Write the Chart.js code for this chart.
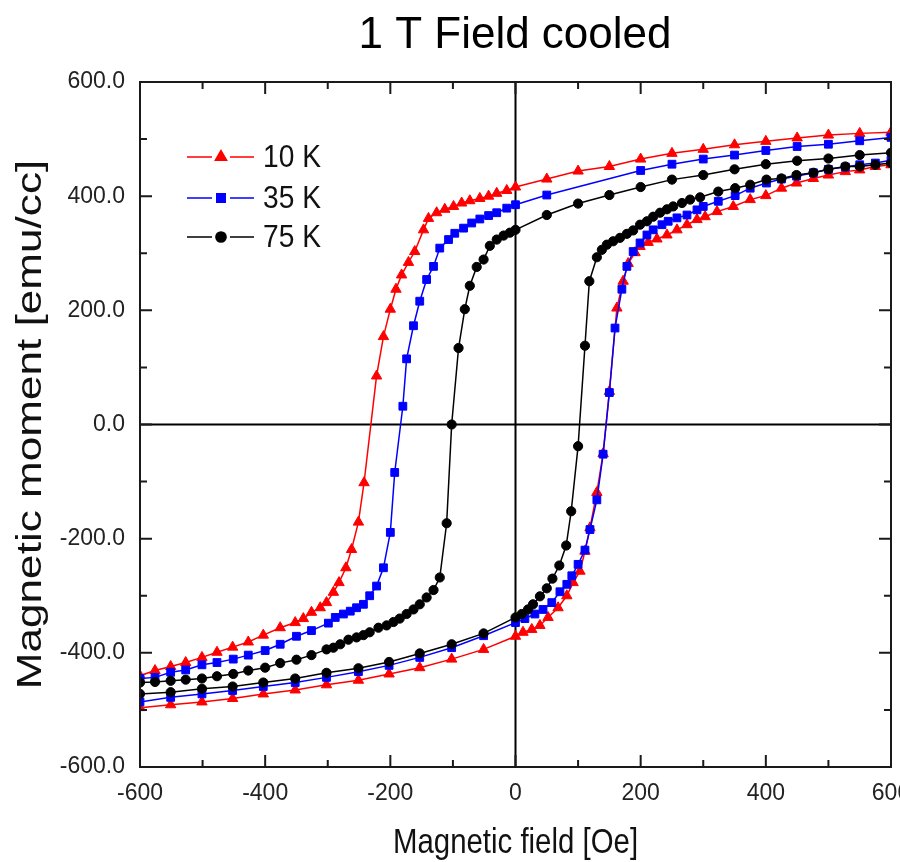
<!DOCTYPE html>
<html>
<head>
<meta charset="utf-8">
<script src="https://cdn.jsdelivr.net/npm/chart.js@4.4.1/dist/chart.umd.min.js"></script>
<style>
  html, body { margin: 0; padding: 0; background: #fff; overflow: hidden; }
  #wrap { position: relative; width: 930px; height: 862px; }
</style>
</head>
<body>
<div id="wrap"><canvas id="loopChart"></canvas></div>
<script>
// 10 K - field sweep down (600 -> -600) then back up
const field10Down = [600, 550, 500, 450, 400, 350, 300, 250, 200, 150, 100, 50, 0, -14, -30, -43, -57, -73, -86, -99, -113, -126, -139, -147, -161, -171, -182, -191, -200, -211, -222, -242, -251, -262, -271, -282, -291, -302, -312, -326, -339, -352, -376, -403, -427, -452, -477, -501, -527, -551, -576, -600];
const moment10Down = [512, 510, 507, 502, 496, 490, 482, 475, 465, 452, 444, 430, 416, 410, 405, 400, 396, 392, 388, 382, 377, 371, 361, 341, 303, 284, 262, 237, 202, 154, 85, -102, -171, -219, -251, -277, -294, -312, -321, -329, -340, -347, -356, -369, -381, -390, -399, -408, -417, -424, -431, -440];
const field10Up = [-600, -551, -501, -452, -403, -352, -302, -251, -202, -153, -102, -51, 0, 12, 26, 39, 52, 68, 82, 92, 103, 111, 119, 130, 140, 150, 162, 172, 180, 191, 199, 212, 226, 242, 258, 274, 290, 303, 322, 348, 375, 400, 425, 449, 476, 500, 527, 550, 575, 600];
const moment10Up = [-496, -491, -486, -480, -472, -465, -456, -448, -437, -426, -411, -394, -371, -364, -359, -352, -338, -321, -300, -277, -257, -222, -181, -119, -51, 58, 204, 251, 282, 301, 312, 319, 325, 332, 341, 350, 359, 364, 373, 382, 394, 401, 414, 423, 431, 437, 443, 446, 452, 455];

// 35 K
const field35Down = [600, 550, 500, 450, 400, 350, 300, 250, 200, 50, 0, -14, -30, -43, -57, -70, -83, -97, -107, -121, -131, -142, -153, -163, -174, -180, -193, -200, -211, -222, -233, -243, -254, -264, -275, -288, -299, -326, -350, -376, -400, -427, -451, -477, -501, -527, -551, -576, -600];
const moment35Down = [503, 497, 491, 487, 480, 472, 465, 456, 445, 402, 385, 379, 371, 366, 360, 353, 344, 335, 324, 309, 277, 254, 216, 173, 115, 32, -84, -189, -251, -283, -300, -315, -321, -327, -332, -338, -348, -361, -371, -385, -396, -404, -411, -417, -421, -430, -434, -443, -445];
const field35Up = [-600, -551, -501, -452, -403, -352, -302, -251, -202, -153, -102, -51, 0, 15, 31, 44, 58, 71, 82, 90, 100, 111, 119, 130, 140, 150, 159, 170, 178, 188, 199, 210, 220, 234, 244, 258, 274, 290, 300, 324, 351, 375, 401, 425, 449, 476, 500, 527, 550, 575, 600];
const moment35Up = [-486, -478, -472, -466, -459, -452, -443, -433, -422, -408, -391, -370, -347, -340, -332, -324, -312, -293, -280, -265, -245, -220, -184, -132, -52, 56, 169, 237, 277, 303, 318, 332, 341, 350, 356, 362, 367, 376, 382, 391, 401, 414, 423, 430, 435, 441, 447, 451, 455, 458, 463];

// 75 K
const field75Down = [600, 550, 500, 450, 400, 350, 300, 250, 200, 150, 100, 50, 0, -9, -19, -30, -41, -51, -62, -73, -81, -91, -102, -110, -121, -131, -142, -153, -163, -174, -185, -195, -206, -219, -233, -243, -254, -267, -280, -291, -302, -326, -350, -376, -400, -427, -451, -477, -501, -527, -551, -576, -600];
const moment75Down = [476, 472, 466, 462, 456, 447, 437, 429, 416, 402, 387, 367, 341, 336, 331, 324, 313, 289, 276, 243, 202, 134, 0, -173, -268, -290, -303, -315, -324, -332, -340, -346, -352, -356, -364, -369, -373, -377, -385, -391, -394, -404, -412, -418, -426, -431, -437, -441, -445, -447, -449, -451, -452];
const field75Up = [-600, -551, -501, -452, -403, -352, -302, -251, -202, -153, -102, -51, 0, 10, 20, 28, 39, 50, 59, 70, 81, 89, 100, 111, 118, 130, 138, 146, 156, 167, 178, 188, 199, 210, 220, 231, 242, 252, 266, 279, 295, 324, 351, 375, 401, 425, 449, 476, 500, 527, 550, 575, 600];
const moment75Up = [-472, -469, -463, -459, -452, -445, -435, -427, -416, -401, -385, -366, -338, -332, -324, -315, -301, -287, -270, -247, -212, -152, -38, 138, 251, 293, 306, 315, 321, 327, 334, 340, 350, 356, 364, 371, 377, 382, 388, 394, 398, 408, 414, 420, 429, 431, 437, 441, 447, 452, 452, 455, 458];

const seriesLabels = ['10 K', '35 K', '75 K'];
const seriesColors = ['#ff0000', '#0000ff', '#000000'];
const seriesMarkers = ['triangle', 'rect', 'circle'];
const markerSizes = [6, 5.5, 4.6];

const xTicks = [-600, -400, -200, 0, 200, 400, 600];
const yTicks = [-600, -400, -200, 0, 200, 400, 600];

const sansFont = "'Liberation Sans', Arial, sans-serif";

function toPoints(xs, ys) {
    return xs.map((x, i) => ({ x: x, y: ys[i] }));
}

const loops = [
    toPoints(field10Down, moment10Down).concat(toPoints(field10Up, moment10Up)),
    toPoints(field35Down, moment35Down).concat(toPoints(field35Up, moment35Up)),
    toPoints(field75Down, moment75Down).concat(toPoints(field75Up, moment75Up))
];

// text squeezed/stretched horizontally like the scanned figure
function stretchedText(ctx, text, x, y, sx, angle) {
    ctx.save();
    ctx.translate(x, y);
    ctx.rotate(angle || 0);
    ctx.scale(sx, 1);
    ctx.fillText(text, 0, 0);
    ctx.restore();
}

// frame, inward ticks, zero lines, titles and legend
const frameTicks = {
    id: 'frameTicks',
    beforeDatasetsDraw(chart) {
        const { ctx, chartArea, scales } = chart;
        const x0 = scales.x.getPixelForValue(0);
        const y0 = scales.y.getPixelForValue(0);
        ctx.save();
        ctx.strokeStyle = '#000';
        ctx.lineWidth = 2;
        ctx.beginPath();
        ctx.moveTo(x0, chartArea.top);
        ctx.lineTo(x0, chartArea.bottom);
        ctx.moveTo(chartArea.left, y0);
        ctx.lineTo(chartArea.right, y0);
        ctx.stroke();
        ctx.restore();
    },
    afterDatasetsDraw(chart) {
        const { ctx, chartArea, scales } = chart;
        const { left, right, top, bottom } = chartArea;
        ctx.save();
        ctx.strokeStyle = '#1a1a1a';
        ctx.lineWidth = 2;
        ctx.strokeRect(left, top, right - left, bottom - top);
        ctx.beginPath();
        for (let v = -500; v <= 500; v += 100) {
            const len = v % 200 === 0 ? 12 : 7;
            const px = scales.x.getPixelForValue(v);
            ctx.moveTo(px, bottom);
            ctx.lineTo(px, bottom - len);
            ctx.moveTo(px, top);
            ctx.lineTo(px, top + len);
            const py = scales.y.getPixelForValue(v);
            ctx.moveTo(left, py);
            ctx.lineTo(left + len, py);
            ctx.moveTo(right, py);
            ctx.lineTo(right - len, py);
        }
        ctx.stroke();
        ctx.restore();
    },
    afterDraw(chart) {
        const { ctx, chartArea } = chart;
        const midX = (chartArea.left + chartArea.right) / 2;
        const midY = (chartArea.top + chartArea.bottom) / 2;
        ctx.save();
        ctx.fillStyle = '#000';
        ctx.font = '44px ' + sansFont;
        ctx.textAlign = 'center';
        ctx.textBaseline = 'alphabetic';
        ctx.fillText('1 T Field cooled', 515, 48);

        ctx.fillStyle = '#111';
        ctx.font = '35px ' + sansFont;
        stretchedText(ctx, 'Magnetic field [Oe]', midX, 853, 0.84, 0);
        ctx.textBaseline = 'middle';
        stretchedText(ctx, 'Magnetic moment [emu/cc]', 31, midY, 1.26, -Math.PI / 2);

        // legend inside the plot
        const rows = [157, 198, 237];
        ctx.textAlign = 'left';
        ctx.font = '32px ' + sansFont;
        rows.forEach((y, i) => {
            ctx.strokeStyle = seriesColors[i];
            ctx.fillStyle = seriesColors[i];
            ctx.lineWidth = 1.5;
            ctx.beginPath();
            ctx.moveTo(187, y);
            ctx.lineTo(212, y);
            ctx.moveTo(230, y);
            ctx.lineTo(254, y);
            ctx.stroke();
            Chart.helpers.drawPoint(ctx, {
                pointStyle: seriesMarkers[i],
                radius: markerSizes[i] + 0.5,
                rotation: 0,
                borderWidth: 1
            }, 221, y);
            ctx.fillStyle = '#111';
            stretchedText(ctx, seriesLabels[i], 263, y + 1, 0.88, 0);
        });
        ctx.restore();
    }
};

new Chart(document.getElementById('loopChart'), {
    type: 'scatter',
    data: {
        datasets: loops.map((pts, i) => ({
            label: seriesLabels[i],
            data: pts,
            showLine: true,
            borderColor: seriesColors[i],
            backgroundColor: seriesColors[i],
            borderWidth: 1.5,
            pointStyle: seriesMarkers[i],
            pointRadius: markerSizes[i],
            pointBorderWidth: 1,
            tension: 0,
            order: 3 - i
        }))
    },
    options: {
        responsive: true,
        maintainAspectRatio: false,
        animation: false,
        layout: { padding: { top: 82, right: 39, bottom: 0, left: 0 } },
        plugins: {
            legend: { display: false },
            tooltip: { enabled: false }
        },
        scales: {
            x: {
                type: 'linear',
                min: -600,
                max: 600,
                afterFit: function(scale) { scale.height = 95; },
                afterBuildTicks: function(scale) {
                    scale.ticks = xTicks.map(v => ({ value: v }));
                },
                grid: { display: false, drawTicks: false },
                border: { display: false },
                ticks: {
                    color: '#222',
                    padding: 13,
                    maxRotation: 0,
                    font: { family: sansFont, size: 23 }
                }
            },
            y: {
                type: 'linear',
                min: -600,
                max: 600,
                afterFit: function(scale) { scale.width = 140; },
                afterBuildTicks: function(scale) {
                    scale.ticks = yTicks.map(v => ({ value: v }));
                },
                grid: { display: false, drawTicks: false },
                border: { display: false },
                ticks: {
                    color: '#222',
                    padding: 15,
                    callback: function(value) { return value.toFixed(1); },
                    font: { family: sansFont, size: 23 }
                }
            }
        }
    },
    plugins: [frameTicks]
});
</script>
</body>
</html>
